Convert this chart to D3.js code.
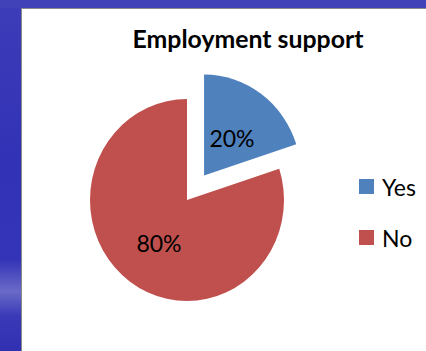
<!DOCTYPE html>
<html>
<head>
<meta charset="utf-8">
<script src="https://cdn.jsdelivr.net/npm/d3@7"></script>
<style>
  html, body { margin: 0; padding: 0; background: #3838b8; }
  svg { display: block; }
</style>
</head>
<body>
<svg id="chart" width="426" height="351"></svg>
<script>
// Survey answers for the employment support question
const categories = ["Yes", "No"];
const values = [20, 80];
const labels = ["20%", "80%"];
const colors = ["#4f81bd", "#c0504d"];
const title = "Employment support";

const W = 426, H = 351;
const svg = d3.select("#chart");

// Slide background with a soft lighter band on the left strip
const defs = svg.append("defs");
const g1 = defs.append("linearGradient").attr("id", "side").attr("x1", 0).attr("y1", 0).attr("x2", 0).attr("y2", 1);
[[0, "#3d3db9"], [0.45, "#3232b6"], [0.74, "#3434b8"], [0.83, "#6a6ac8"], [0.9, "#3a3ab8"], [1, "#3030b2"]]
  .forEach(([o, c]) => g1.append("stop").attr("offset", o).attr("stop-color", c));
svg.append("rect").attr("width", W).attr("height", H).attr("fill", "url(#side)");
svg.append("rect").attr("x", 0).attr("y", 0).attr("width", W).attr("height", 8).attr("fill", "#4242b8");

// Chart area
const area = { x: 21, y: 8 };
svg.append("rect").attr("x", area.x).attr("y", area.y).attr("width", W - area.x).attr("height", H - area.y)
  .attr("fill", "#ffffff");
svg.append("line").attr("x1", area.x + 0.5).attr("x2", area.x + 0.5).attr("y1", area.y).attr("y2", H)
  .attr("stroke", "#8a8a8a").attr("stroke-width", 1);
svg.append("line").attr("x1", area.x).attr("x2", W).attr("y1", area.y + 0.5).attr("y2", area.y + 0.5)
  .attr("stroke", "#8a8a8a").attr("stroke-width", 1);

// Title, sized to its box width
const t = svg.append("text").attr("x", 248).attr("y", 48).attr("text-anchor", "middle")
  .attr("font-family", "Lato, 'Open Sans', sans-serif").attr("font-weight", "bold")
  .attr("font-size", 21).attr("fill", "#000").text(title);
const tw = t.node().getComputedTextLength();
t.attr("font-size", 21 * 231 / tw);

// Pie
const cx = 187, cy = 200, r = 97, sy = 101 / 97, explode = 29;
const pie = d3.pie().sort(null).value(d => d)(values);
const arc = d3.arc().innerRadius(0).outerRadius(r);
const pg = svg.append("g").attr("transform", `translate(${cx},${cy}) scale(1,${sy})`);

pg.selectAll("path").data(pie).join("path")
  .attr("d", arc)
  .attr("fill", (d, i) => colors[i])
  .attr("transform", (d, i) => {
    if (i !== 0) return null;
    const a = (d.startAngle + d.endAngle) / 2;
    return `translate(${Math.sin(a) * explode},${-Math.cos(a) * explode})`;
  });

// Data labels
const labelPos = [[232, 147], [159, 252]];
svg.selectAll("text.lbl").data(labels).join("text").attr("class", "lbl")
  .attr("x", (d, i) => labelPos[i][0]).attr("y", (d, i) => labelPos[i][1])
  .attr("text-anchor", "middle")
  .attr("font-family", "Lato, 'Open Sans', sans-serif").attr("font-size", 23).attr("fill", "#000")
  .text(d => d);

// Legend
const lg = svg.append("g");
const ly = d3.scalePoint().domain(categories).range([179, 230]);
lg.selectAll("rect").data(categories).join("rect")
  .attr("x", 359).attr("y", d => ly(d)).attr("width", 15).attr("height", 15)
  .attr("fill", (d, i) => colors[i]);
lg.selectAll("text").data(categories).join("text")
  .attr("x", 382).attr("y", d => ly(d) + 17)
  .attr("font-family", "Lato, 'Open Sans', sans-serif").attr("font-size", 23).attr("fill", "#000")
  .text(d => d);
</script>
</body>
</html>
